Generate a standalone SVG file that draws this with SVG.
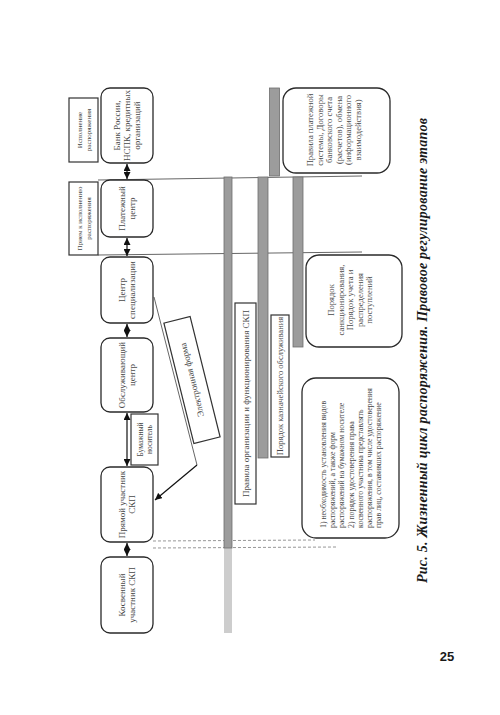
<svg xmlns="http://www.w3.org/2000/svg" width="500" height="715" viewBox="0 0 500 715">
<style>
.bg{fill:#ffffff}
.node{fill:#ffffff;stroke:#2a2a2a;stroke-width:1.3}
.sq{fill:#ffffff;stroke:#333333;stroke-width:1.2}
.bar{fill:#9c9c9c;stroke:#6e6e6e;stroke-width:0.8}
.barl{fill:#cdcdcd}
.t{font-family:"Liberation Serif","DejaVu Serif",serif;fill:#484848;font-size:9px;text-anchor:middle}
.ts{font-family:"Liberation Serif","DejaVu Serif",serif;fill:#484848;font-size:7px;text-anchor:middle}
.tl{font-family:"Liberation Serif","DejaVu Serif",serif;fill:#484848;font-size:7.8px}
.ln{stroke:#555555;stroke-width:0.9;fill:none}
.ar{stroke:#111111;stroke-width:1.2;fill:none}
.dash{stroke:#8a8a8a;stroke-width:0.9;stroke-dasharray:3 2;fill:none}
.cap{font-family:"Liberation Serif","DejaVu Serif",serif;font-weight:bold;font-style:italic;font-size:14px;fill:#1a1a1a}
.pg{font-family:"Liberation Sans","DejaVu Sans",sans-serif;font-weight:bold;font-size:13px;fill:#1a1a1a;text-anchor:middle}
</style>
<defs>
<marker id="ah" viewBox="0 0 10 10" refX="10" refY="5" markerWidth="7" markerHeight="7" markerUnits="userSpaceOnUse" orient="auto-start-reverse">
<path d="M0,0 L10,5 L0,10 z" fill="#111111"/>
</marker>
</defs>
<rect class="bg" x="0" y="0" width="500" height="715"/>

<g id="gridlines">
<line class="ln" x1="98" y1="180" x2="362" y2="176"/>
<line class="ln" x1="98" y1="255" x2="362" y2="252"/>
<line class="dash" x1="153" y1="541" x2="315" y2="540"/>
<line class="dash" x1="153" y1="548" x2="338" y2="547"/>
</g>

<g id="bars">
<rect class="barl" x="224" y="548" width="8" height="85"/>
<rect class="bar" x="224" y="177" width="8" height="371"/>
<rect class="bar" x="258" y="177" width="10" height="281"/>
<rect class="bar" x="269.5" y="88" width="10" height="88"/>
<rect class="bar" x="293" y="177" width="10" height="170"/>
</g>

<g id="connectors">
<line class="ar" x1="127" y1="164" x2="127" y2="179" marker-start="url(#ah)" marker-end="url(#ah)"/>
<line class="ar" x1="127" y1="238" x2="127" y2="256" marker-start="url(#ah)" marker-end="url(#ah)"/>
<line class="ar" x1="127" y1="324" x2="127" y2="337" marker-start="url(#ah)" marker-end="url(#ah)"/>
<line class="ar" x1="127" y1="413" x2="127" y2="466" marker-start="url(#ah)" marker-end="url(#ah)"/>
<line class="ar" x1="127" y1="543" x2="127" y2="556" marker-start="url(#ah)" marker-end="url(#ah)"/>
<polyline class="ln" points="154,297 197,465"/>
<line class="ar" x1="197" y1="465" x2="155" y2="500" marker-end="url(#ah)"/>
</g>

<g id="stage-exec">
<rect class="sq" x="69" y="98" width="29" height="64"/>
<text class="ts" transform="translate(83.5,130) rotate(-90)"><tspan x="0" y="-1.5">Исполнение</tspan><tspan x="0" y="7">распоряжения</tspan></text>
</g>
<g id="stage-accept">
<rect class="sq" x="69" y="182" width="29" height="73"/>
<text class="ts" transform="translate(83.5,218.5) rotate(-90)"><tspan x="0" y="-1.5">Прием к исполнению</tspan><tspan x="0" y="7">распоряжения</tspan></text>
</g>

<g id="node-bank">
<rect class="node" x="101" y="88" width="52" height="75" rx="9"/>
<text class="t" transform="translate(127,125.5) rotate(-90)"><tspan x="0" y="-7">Банк России,</tspan><tspan x="0" y="3">НСПК, кредитных</tspan><tspan x="0" y="13">организаций</tspan></text>
</g>
<g id="node-paycenter">
<rect class="node" x="101" y="180" width="52" height="57" rx="9"/>
<text class="t" transform="translate(127,208.5) rotate(-90)"><tspan x="0" y="-2">Платежный</tspan><tspan x="0" y="8">центр</tspan></text>
</g>
<g id="node-spec">
<rect class="node" x="101" y="257" width="52" height="66" rx="9"/>
<text class="t" transform="translate(127,290) rotate(-90)"><tspan x="0" y="-2">Центр</tspan><tspan x="0" y="8">специализации</tspan></text>
</g>
<g id="node-service">
<rect class="node" x="101" y="338" width="52" height="74" rx="9"/>
<text class="t" transform="translate(127,375) rotate(-90)"><tspan x="0" y="-2">Обслуживающий</tspan><tspan x="0" y="8">центр</tspan></text>
</g>
<g id="node-direct">
<rect class="node" x="101" y="467" width="52" height="75" rx="9"/>
<text class="t" transform="translate(127,504.5) rotate(-90)"><tspan x="0" y="-2">Прямой участник</tspan><tspan x="0" y="8">СКП</tspan></text>
</g>
<g id="node-indirect">
<rect class="node" x="101" y="557" width="52" height="76" rx="9"/>
<text class="t" transform="translate(127,595) rotate(-90)"><tspan x="0" y="-2">Косвенный</tspan><tspan x="0" y="8">участник СКП</tspan></text>
</g>

<g id="paper">
<rect class="sq" x="131" y="414" width="27" height="51"/>
<text class="ts" transform="translate(144.5,439.5) rotate(-90)" style="font-size:7.5px"><tspan x="0" y="-1.5">Бумажный</tspan><tspan x="0" y="7.5">носитель</tspan></text>
</g>

<g id="electronic">
<g transform="translate(192,380) rotate(-14)">
<rect class="sq" x="-13.5" y="-62" width="27" height="124"/>
<text class="t" transform="rotate(-90)" y="3">Электронная форма</text>
</g>
</g>

<g id="rules-org">
<rect class="sq" x="235" y="303" width="21" height="201"/>
<text class="t" transform="translate(245.5,403.5) rotate(-90)" y="3">Правила организации и функционирования СКП</text>
</g>
<g id="rules-treasury">
<rect class="sq" x="271" y="315" width="18" height="142"/>
<text class="t" transform="translate(280,386) rotate(-90)" y="3" style="font-size:8.5px">Порядок казначейского обслуживания</text>
</g>

<g id="note-ps">
<rect class="node" x="283" y="88" width="107" height="85" rx="13"/>
<text class="t" transform="translate(335,130) rotate(-90)" style="font-size:8.6px"><tspan x="0" y="-22">Правила платежной</tspan><tspan x="0" y="-12.5">системы, Договоры</tspan><tspan x="0" y="-3">банковского счета</tspan><tspan x="0" y="6.5">(расчетов), обмена</tspan><tspan x="0" y="16">(информационного</tspan><tspan x="0" y="25.5">взаимодействия)</tspan></text>
</g>
<g id="note-auth">
<rect class="node" x="306" y="255" width="96" height="92" rx="13"/>
<text class="t" transform="translate(351,300) rotate(-90)" style="font-size:8.6px"><tspan x="0" y="-17">Порядок</tspan><tspan x="0" y="-7.5">санкционирования,</tspan><tspan x="0" y="2">Порядок учета и</tspan><tspan x="0" y="11.5">распределения</tspan><tspan x="0" y="21">поступлений</tspan></text>
</g>
<g id="note-forms">
<rect class="node" x="302" y="378" width="97" height="160" rx="14"/>
<text class="tl" transform="translate(326,528) rotate(-90)"><tspan x="0" y="0">1) необходимость установления видов</tspan><tspan x="0" y="9.2">распоряжений, а также форм</tspan><tspan x="0" y="18.4">распоряжений на бумажном носителе</tspan><tspan x="0" y="27.6">2) порядок удостоверения права</tspan><tspan x="0" y="36.8">косвенного участника представлять</tspan><tspan x="0" y="46">распоряжения, в том числе удостоверения</tspan><tspan x="0" y="55.2">прав лиц, составивших распоряжение</tspan></text>
</g>

<text class="cap" transform="translate(427,583) rotate(-90)" textLength="465" lengthAdjust="spacing">Рис. 5. Жизненный цикл распоряжения. Правовое регулирование этапов</text>
<text class="pg" x="447" y="661">25</text>
</svg>
